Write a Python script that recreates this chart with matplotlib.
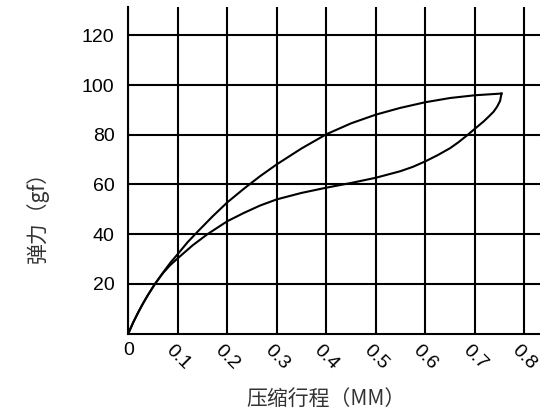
import matplotlib
matplotlib.use("Agg")
import matplotlib.pyplot as plt

# loading curve (upper) and unloading curve (lower)
x_up = [0, 0.01, 0.02, 0.03, 0.04, 0.054, 0.07, 0.085, 0.10, 0.12, 0.141, 0.17, 0.20, 0.233,
        0.266, 0.30, 0.35, 0.40, 0.45, 0.50, 0.549, 0.60, 0.65, 0.70, 0.754]
y_up = [0, 4.5, 8.5, 12.2, 15.6, 20, 24.5, 28.5, 32.0, 36.8, 41.2, 47.1, 52.8, 58.2,
        63.3, 68.1, 74.5, 80.2, 84.6, 88.1, 90.8, 93.1, 94.8, 95.9, 96.6]

x_down = [0.754, 0.751, 0.745, 0.738, 0.728, 0.718, 0.70, 0.684, 0.667, 0.65, 0.625, 0.60,
          0.575, 0.549, 0.50, 0.45, 0.40, 0.35, 0.30, 0.266, 0.233, 0.20, 0.16, 0.13, 0.10,
          0.085, 0.07, 0.054, 0.04, 0.03, 0.02, 0.01, 0]
y_down = [96.6, 93.6, 91.3, 89.3, 87.3, 85.4, 82.4, 79.7, 77.0, 74.6, 71.8, 69.3,
          67.1, 65.3, 62.7, 60.6, 58.7, 56.6, 54, 51.5, 48.5, 45.2, 40, 35.5, 30.3,
          27.6, 24.3, 20, 15.6, 12.2, 8.5, 4.5, 0]

x_ticks = [0, 0.1, 0.2, 0.3, 0.4, 0.5, 0.6, 0.7, 0.8]
x_labels = ["0", "0.1", "0.2", "0.3", "0.4", "0.5", "0.6", "0.7", "0.8"]
y_ticks = [20, 40, 60, 80, 100, 120]

cjk = ["Noto Sans CJK SC", "DejaVu Sans"]

fig = plt.figure(figsize=(5.4, 4.12), dpi=100)
ax = fig.add_axes([0.2376, 0.1905, 0.7624, 0.7917])

ax.plot(x_up, y_up, color="black", lw=1.5)
ax.plot(x_down, y_down, color="black", lw=1.5)

ax.set_xlim(0, 0.8317)
ax.set_ylim(0, 131.3)
ax.set_xticks(x_ticks)
ax.set_xticklabels(x_labels, fontfamily="Liberation Sans", fontsize=14)
ax.set_yticks(y_ticks)
ax.set_yticklabels([str(v) for v in y_ticks], fontfamily="Liberation Sans", fontsize=14)
for lab in ax.get_xticklabels()[1:]:
    lab.set_rotation(-45)
    lab.set_ha("center")
ax.tick_params(axis="y", length=0, pad=10)
ax.tick_params(axis="x", length=0, pad=6)

ax.grid(True, color="black", lw=1.5)
for s in ["top", "right"]:
    ax.spines[s].set_visible(False)
for s in ["left", "bottom"]:
    ax.spines[s].set_linewidth(1.5)

ax.set_xlabel("压缩行程（MM）", fontfamily=cjk, fontsize=15, color="#333333")
ax.set_ylabel("弹力（gf）", fontfamily=cjk, fontsize=15, color="#333333")
ax.xaxis.set_label_coords(0.48, -0.167)
ax.yaxis.set_label_coords(-0.193, 0.372)

fig.savefig("out.png", dpi=100)
